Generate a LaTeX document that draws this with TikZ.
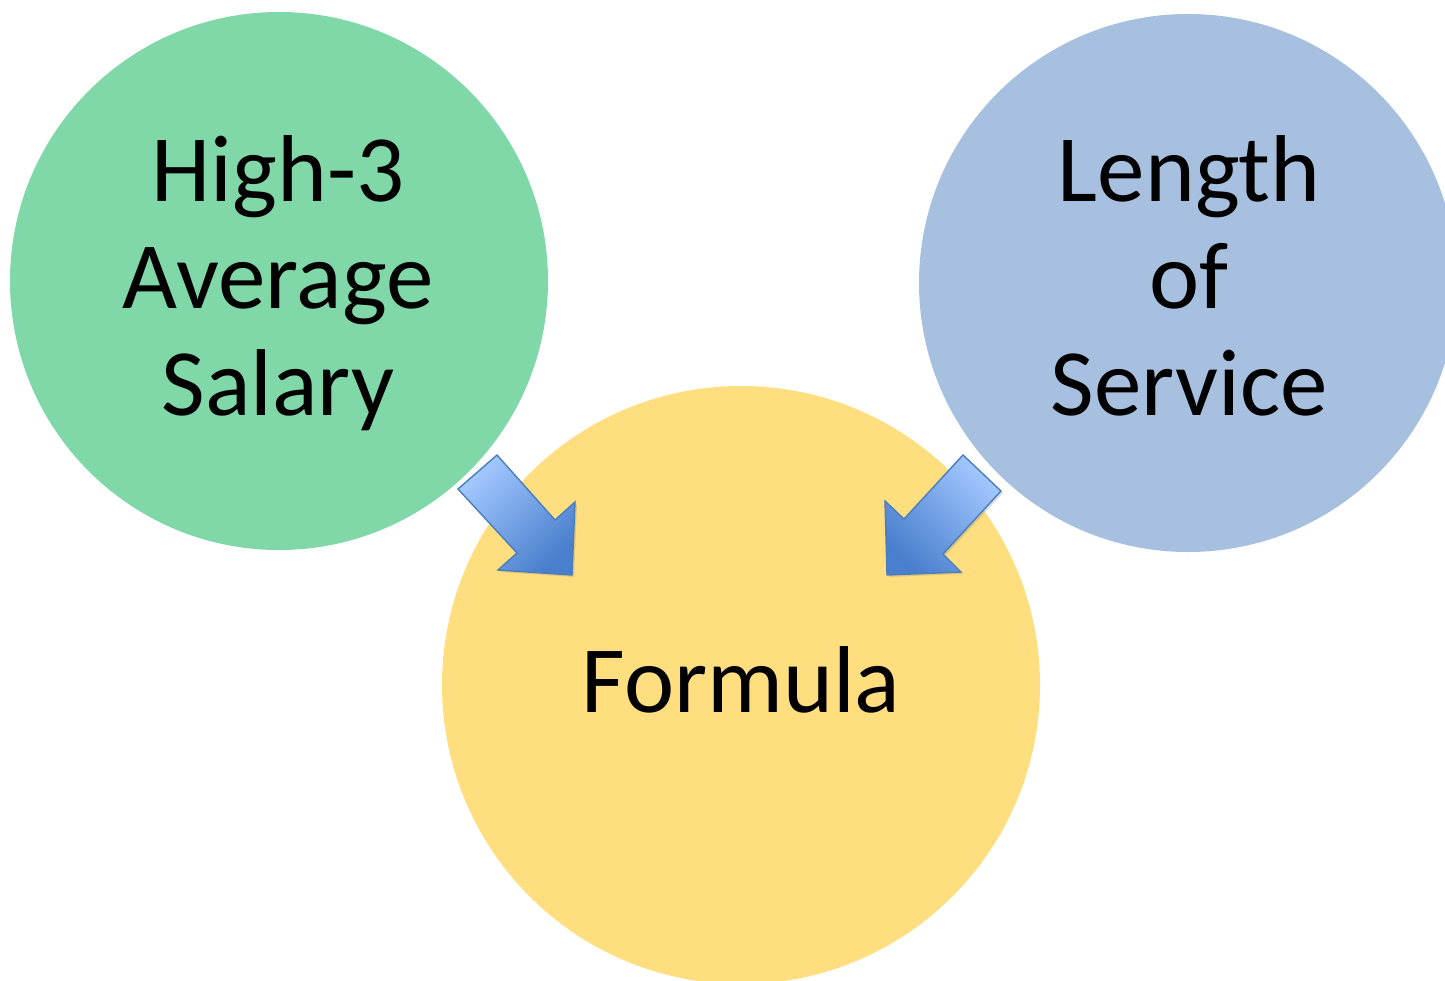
\documentclass[tikz,border=0pt]{standalone}
\usepackage{fontspec}
\setmainfont{Carlito}
\usetikzlibrary{shadows}
\definecolor{cgreen}{HTML}{80D8A8}
\definecolor{cblue}{HTML}{A8C0DF}
\definecolor{cyellow}{HTML}{FFDE80}
\definecolor{alight}{HTML}{A3C8FF}
\definecolor{adark}{HTML}{4A7FCD}
\definecolor{aedge}{HTML}{4A7EBB}
\begin{document}
\begin{tikzpicture}[x=1pt,y=-1pt,
  disc/.style={circle,inner sep=0pt,minimum size=#1,draw=none},
  lbl/.style={anchor=base,inner sep=0pt,font=\fontsize{95}{107}\selectfont},
  blockarrow/.style={draw=aedge,line width=1.4pt,line join=miter,
    drop shadow={opacity=0.25,shadow xshift=2pt,shadow yshift=-2pt}}]
\useasboundingbox (0,0) rectangle (1445,980);
\fill[white] (0,0) rectangle (1445,980);
% circles
\node[disc=538pt,fill=cgreen] (green) at (279,281) {};
\node[disc=538pt,fill=cblue] (blue) at (1188,283) {};
\node[disc=598pt,fill=cyellow] (yellow) at (741,685) {};
% texts
\node[lbl] (g1) at (278,201) {High-3};
\node[lbl] (g2) at (278,308) {Average};
\node[lbl] (g3) at (278,415) {Salary};
\node[lbl] (b1) at (1189,201) {Length};
\node[lbl] (b2) at (1189,308) {of};
\node[lbl] (b3) at (1189,415) {Service};
\node[lbl] (y1) at (741,712) {Formula};
% block arrows
\path[blockarrow,top color=alight,bottom color=adark,shading angle=45]
  (497,455) -- (555,520) -- (575,502) -- (572,575) -- (498,570) -- (517,553) -- (458,489) -- cycle;
\path[blockarrow,top color=alight,bottom color=adark,shading angle=-45]
  (963,455) -- (1001,491) -- (943,554) -- (961,572) -- (887,575) -- (885,501) -- (904,519) -- cycle;
\end{tikzpicture}
\end{document}
